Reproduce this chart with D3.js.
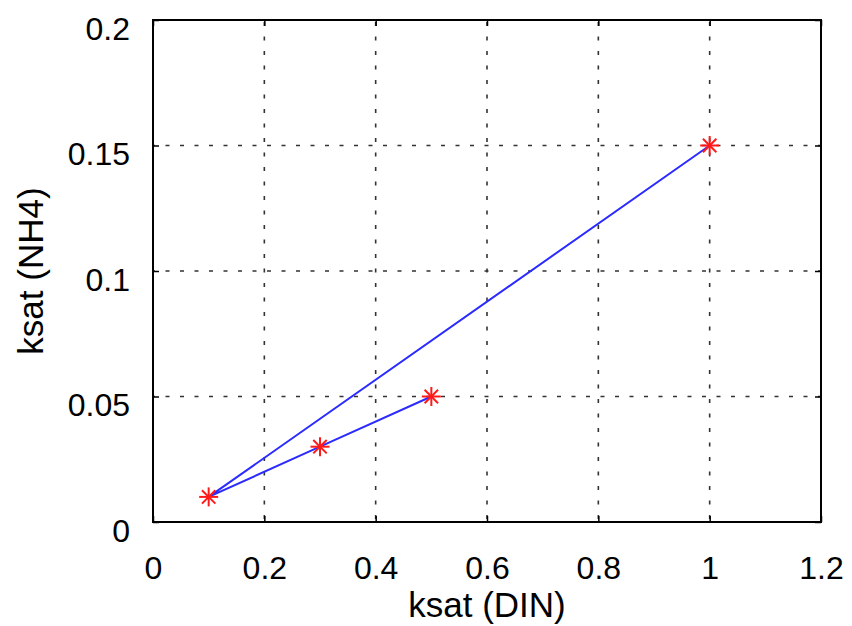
<!DOCTYPE html>
<html>
<head>
<meta charset="utf-8">
<script src="https://cdn.jsdelivr.net/npm/d3@7"></script>
<style>
  body { margin: 0; background: #fff; }
  svg { font-family: "Liberation Sans", Arial, sans-serif; }
</style>
</head>
<body>
<div id="chart"></div>
<script>
// ksat values, in the order the line visits them
var ksatDIN = [0.5, 0.3, 0.1, 1.0];
var ksatNH4 = [0.05, 0.03, 0.01, 0.15];
var xTicks = [0, 0.2, 0.4, 0.6, 0.8, 1, 1.2];
var yTicks = [0, 0.05, 0.1, 0.15, 0.2];

var W = 852, H = 626;
var margin = {top: 20, right: 31, bottom: 104, left: 153};
var width = W - margin.left - margin.right,
    height = H - margin.top - margin.bottom;

var svg = d3.select("#chart").append("svg")
    .attr("width", W).attr("height", H);
var g = svg.append("g").attr("transform", "translate(" + margin.left + "," + margin.top + ")");

var x = d3.scaleLinear().domain([0, 1.2]).range([0, width]);
var y = d3.scaleLinear().domain([0, 0.2]).range([height, 0]);

// dotted grid
g.selectAll(".gx").data(xTicks.slice(1, -1)).enter().append("line")
    .attr("x1", d => x(d)).attr("x2", d => x(d))
    .attr("y1", 0).attr("y2", height)
    .style("stroke", "#333").style("stroke-width", 1.6)
    .style("stroke-dasharray", "4,10.5").style("stroke-dashoffset", -2);
g.selectAll(".gy").data(yTicks.slice(1, -1)).enter().append("line")
    .attr("y1", d => y(d)).attr("y2", d => y(d))
    .attr("x1", 0).attr("x2", width)
    .style("stroke", "#333").style("stroke-width", 1.6)
    .style("stroke-dasharray", "4,10.5").style("stroke-dashoffset", 2);

// axes with inward ticks
var fmt = d => String(d);
var xa = g.append("g").attr("transform", "translate(0," + height + ")")
    .call(d3.axisBottom(x).tickValues(xTicks).tickFormat(fmt).tickSizeInner(-6).tickSizeOuter(0));
var xt = g.append("g").call(d3.axisTop(x).tickValues(xTicks).tickFormat("").tickSizeInner(-6).tickSizeOuter(0));
var ya = g.append("g")
    .call(d3.axisLeft(y).tickValues(yTicks).tickFormat(fmt).tickSizeInner(-6).tickSizeOuter(0));
var yr = g.append("g").attr("transform", "translate(" + width + ",0)")
    .call(d3.axisRight(y).tickValues(yTicks).tickFormat("").tickSizeInner(-6).tickSizeOuter(0));

[xa, xt, ya, yr].forEach(function(a) {
    a.select(".domain").remove();
    a.selectAll("line").style("stroke", "#000").style("stroke-width", 1.5);
    a.selectAll("text").style("font-size", "32px").style("fill", "#000")
        .style("font-family", "'Liberation Sans', Arial, sans-serif");
});
xa.selectAll("text").attr("y", 57).attr("dy", null);
ya.selectAll("text").attr("x", -23).attr("y", 19).attr("dy", null);

// box
g.append("rect").attr("width", width).attr("height", height)
    .style("fill", "none").style("stroke", "#000").style("stroke-width", 2);

// data line
var pts = ksatDIN.map((d, i) => [d, ksatNH4[i]]);
g.append("path").datum(pts)
    .attr("d", d3.line().x(d => x(d[0])).y(d => y(d[1])))
    .style("fill", "none").style("stroke", "#2b2bff").style("stroke-width", 2);

// asterisk markers
var r = 9.5;
var star = g.selectAll(".star").data(pts).enter().append("g")
    .attr("transform", d => "translate(" + x(d[0]) + "," + y(d[1]) + ")");
[0, 45, 90, 135].forEach(function(a) {
    star.append("line")
        .attr("x1", -r).attr("x2", r).attr("y1", 0).attr("y2", 0)
        .attr("transform", "rotate(" + a + ")")
        .style("stroke", "#ff1a1a").style("stroke-width", 2);
});

// axis labels
svg.append("text").attr("x", margin.left + width / 2).attr("y", 617)
    .attr("text-anchor", "middle").style("font-size", "35px").text("ksat (DIN)");
svg.append("text")
    .attr("transform", "translate(43," + (margin.top + height / 2) + ") rotate(-90)")
    .attr("text-anchor", "middle").style("font-size", "35px").text("ksat (NH4)");
</script>
</body>
</html>
